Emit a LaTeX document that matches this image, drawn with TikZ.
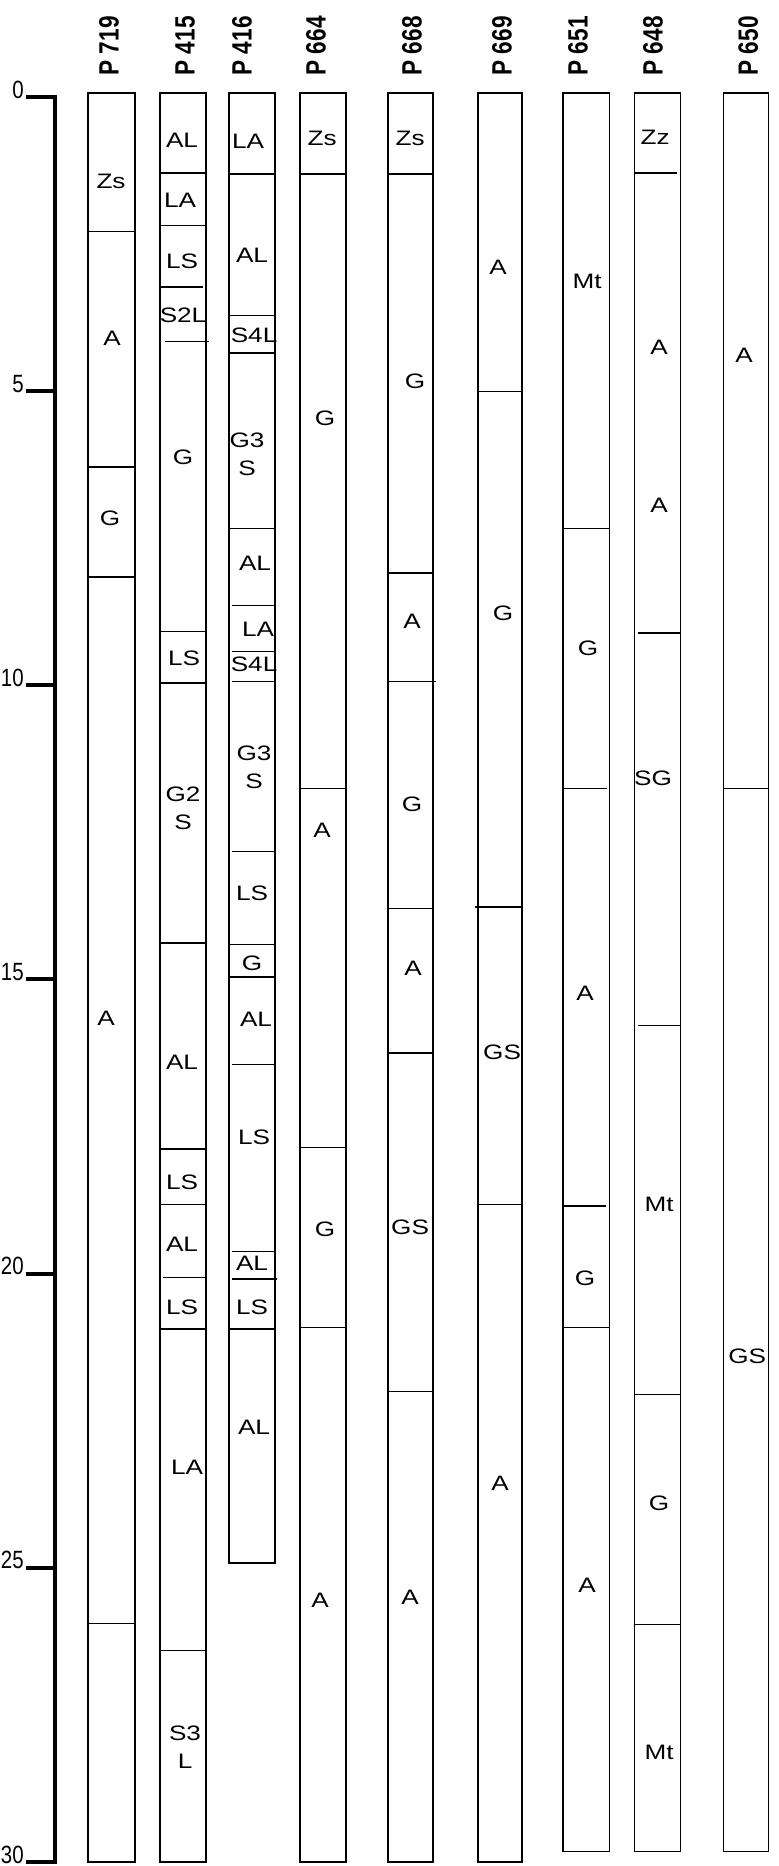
\documentclass[tikz,border=0pt]{standalone}
\usepackage{fontspec}
\setmainfont{Liberation Sans}
\newfontfamily\labfont[FakeStretch=1.25]{Liberation Sans}
\newfontfamily\headfont[FakeStretch=0.81]{Liberation Sans}
\newfontfamily\numfont[FakeStretch=0.82]{Liberation Sans}

\begin{document}
\begin{tikzpicture}[x=0.02cm, y=-1.1766cm, line join=miter,
  col/.style={line width=.7pt},
  layer/.style={font=\labfont\fontsize{11.9}{16}\selectfont, inner sep=0pt, align=center},
  profname/.style={font=\headfont\bfseries\fontsize{15.9}{16}\selectfont, rotate=90, anchor=west, inner sep=0pt},
  depthlab/.style={font=\numfont\fontsize{14.2}{15}\selectfont, anchor=south east, inner sep=0pt}]
  \useasboundingbox (0,-1.649) rectangle (778,30.07);

  % depth scale
  \draw[line width=2.6pt] (26,0) -- (55,0) -- (55,30) -- (26,30);
  \foreach \d in {5,10,...,25} \draw[line width=2.3pt] (26,\d) -- (55,\d);
  \foreach \d in {0,5,...,30} \path (24,{\d+0.03}) node[depthlab] (d\d) {\d};

  % profile names
  \path
  (109,-0.36) node[profname] (h719) {P 719}
  (185,-0.36) node[profname] (h415) {P 415}
  (242,-0.36) node[profname] (h416) {P 416}
  (316,-0.36) node[profname] (h664) {P 664}
  (412,-0.36) node[profname] (h668) {P 668}
  (502,-0.36) node[profname] (h669) {P 669}
  (578,-0.36) node[profname] (h651) {P 651}
  (653,-0.36) node[profname] (h648) {P 648}
  (748,-0.36) node[profname] (h650) {P 650};

  % P 719
  \draw[col] (88,-0.07) rectangle (135,30);
  \foreach \d in {2.28,6.29,8.16,25.95} \draw[col] (88,\d) -- (135,\d);
  \path
  (111,1.44) node[layer] (a1) {Zs}
  (112,4.10) node[layer] (a2) {A}
  (110,7.16) node[layer] (a3) {G}
  (106,15.66) node[layer] (a4) {A};

  % P 415
  \draw[col] (160,-0.07) rectangle (206,30);
  \foreach \d in {1.29,2.19,9.09,9.96,14.38,17.88,18.82,20.94,26.40} \draw[col] (160,\d) -- (206,\d);
  \draw[col] (160,3.23) -- (203,3.23) (165,4.16) -- (209,4.16) (163,20.07) -- (206,20.07);
  \path
  (182,0.73) node[layer] (b1) {AL}
  (180,1.75) node[layer] (b2) {LA}
  (182,2.80) node[layer] (b3) {LS}
  (183,3.71) node[layer] (b4) {S2L}
  (183,6.12) node[layer] (b5) {G}
  (184,9.54) node[layer] (b6) {LS}
  (183,12.09) node[layer] (b7) {G2\\S}
  (182,16.40) node[layer] (b8) {AL}
  (182,18.44) node[layer] (b9) {LS}
  (182,19.50) node[layer] (b10) {AL}
  (182,20.57) node[layer] (b11) {LS}
  (187,23.29) node[layer] (b12) {LA}
  (185,28.05) node[layer] (b13) {S3\\L};

  % P 416
  \draw[col] (229,-0.07) rectangle (275,24.92);
  \foreach \d in {1.31,3.72,4.35,7.33,14.41,14.96,20.94} \draw[col] (229,\d) -- (275,\d);
  \foreach \d in {8.65,9.43,9.93,12.82,16.44,19.63} \draw[col] (232,\d) -- (275,\d);
  \draw[col] (232,20.09) -- (277,20.09);
  \path
  (248,0.76) node[layer] (c1) {LA}
  (252,2.69) node[layer] (c2) {AL}
  (254,4.05) node[layer] (c3) {S4L}
  (247,6.07) node[layer] (c4) {G3\\S}
  (255,7.92) node[layer] (c5) {AL}
  (258,9.04) node[layer] (c6) {LA}
  (254,9.65) node[layer] (c7) {S4L}
  (254,11.39) node[layer] (c8) {G3\\S}
  (252,13.53) node[layer] (c9) {LS}
  (252,14.72) node[layer] (c10) {G}
  (256,15.67) node[layer] (c11) {AL}
  (254,17.68) node[layer] (c12) {LS}
  (252,19.82) node[layer] (c13) {AL}
  (252,20.57) node[layer] (c14) {LS}
  (254,22.62) node[layer] (c15) {AL};

  % P 664
  \draw[col] (300,-0.07) rectangle (346,30);
  \foreach \d in {1.31,11.76,17.85,20.92} \draw[col] (300,\d) -- (346,\d);
  \path
  (322,0.70) node[layer] (e1) {Zs}
  (325,5.46) node[layer] (e2) {G}
  (322,12.46) node[layer] (e3) {A}
  (325,19.24) node[layer] (e4) {G}
  (320,25.55) node[layer] (e5) {A};

  % P 668
  \draw[col] (388,-0.07) rectangle (433,30);
  \foreach \d in {1.31,8.09,13.79,16.25,22.0} \draw[col] (388,\d) -- (433,\d);
  \draw[col] (388,9.94) -- (436,9.94);
  \path
  (410,0.70) node[layer] (f1) {Zs}
  (415,4.84) node[layer] (f2) {G}
  (412,8.92) node[layer] (f3) {A}
  (412,12.03) node[layer] (f4) {G}
  (413,14.81) node[layer] (f5) {A}
  (410,19.21) node[layer] (f6) {GS}
  (410,25.51) node[layer] (f7) {A};

  % P 669
  \draw[col] (478,-0.07) rectangle (522,30);
  \foreach \d in {5.01,18.82} \draw[col] (478,\d) -- (522,\d);
  \draw[col] (475,13.77) -- (522,13.77);
  \path
  (498,2.89) node[layer] (g1) {A}
  (503,8.77) node[layer] (g2) {G}
  (502,16.23) node[layer] (g3) {GS}
  (500,23.56) node[layer] (g4) {A};

  % P 651
  \draw[col] (563,-0.07) rectangle (609,29.82);
  \foreach \d in {7.34,20.92} \draw[col] (563,\d) -- (609,\d);
  \draw[col] (563,11.76) -- (607,11.76) (563,18.85) -- (606,18.85);
  \path
  (587,3.14) node[layer] (k1) {Mt}
  (588,9.37) node[layer] (k2) {G}
  (585,15.23) node[layer] (k3) {A}
  (585,20.08) node[layer] (k4) {G}
  (587,25.29) node[layer] (k5) {A};

  % P 648
  \draw[col] (634,-0.07) rectangle (680,29.82);
  \foreach \d in {22.05,25.97} \draw[col] (634,\d) -- (680,\d);
  \draw[col] (634,1.29) -- (677,1.29) (638,9.11) -- (680,9.11) (638,15.78) -- (680,15.78);
  \path
  (655,0.68) node[layer] (m1) {Zz}
  (659,4.25) node[layer] (m2) {A}
  (659,6.94) node[layer] (m3) {A}
  (653,11.58) node[layer] (m4) {SG}
  (659,18.82) node[layer] (m5) {Mt}
  (659,23.90) node[layer] (m6) {G}
  (659,28.13) node[layer] (m7) {Mt};

  % P 650
  \draw[col] (723,-0.07) rectangle (768,29.82);
  \draw[col] (723,11.76) -- (768,11.76);
  \path
  (744,4.39) node[layer] (n1) {A}
  (747,21.40) node[layer] (n2) {GS};
\end{tikzpicture}
\end{document}
